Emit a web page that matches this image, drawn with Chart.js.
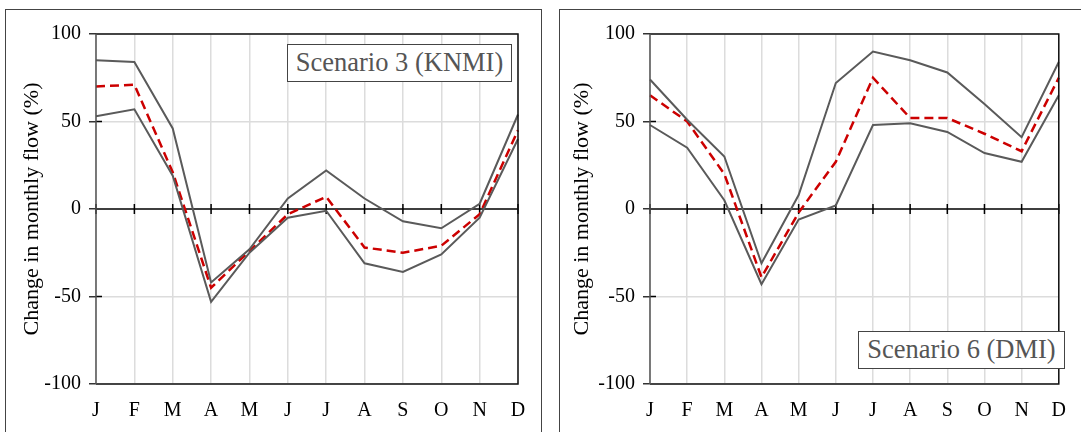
<!DOCTYPE html>
<html>
<head>
<meta charset="utf-8">
<script src="https://cdn.jsdelivr.net/npm/chart.js@4.4.1/dist/chart.umd.min.js"></script>
<style>
  html, body { margin: 0; padding: 0; background: #fff; }
  body { width: 1081px; height: 432px; position: relative; overflow: hidden; }
  .frame { position: absolute; top: 9px; height: 600px; border: 1.5px solid #444; box-sizing: border-box; }
  canvas { position: absolute; top: 0; }
  .label {
    position: absolute; box-sizing: border-box; height: 38px;
    border: 1.5px solid #444; background: #fff; color: #555;
    font-family: "Liberation Serif", "DejaVu Serif", serif; font-size: 26.5px;
    line-height: 35px; text-align: center; white-space: nowrap;
  }
</style>
</head>
<body>
<div class="frame" style="left:5px; width:537px;"></div>
<div class="frame" style="left:559px; width:540px;"></div>
<canvas id="knmiChart" width="541" height="432" style="left:0px"></canvas>
<canvas id="dmiChart" width="540" height="432" style="left:541px"></canvas>
<div class="label" style="left:287px; top:44px; width:225px;">Scenario 3 (KNMI)</div>
<div class="label" style="left:858px; top:331px; width:207px;">Scenario 6 (DMI)</div>
<script>
var months = ["J", "F", "M", "A", "M", "J", "J", "A", "S", "O", "N", "D"];
var yTicks = [-100, -50, 0, 50, 100];

// scenario 3 (KNMI)
var knmiUpper = [85, 84, 46, -42, -23, 6, 22, 6, -7, -11, 3, 54];
var knmiLower = [53, 57, 19, -53, -25, -5, -1, -31, -36, -26, -5, 40];
var knmiMean = [70, 71, 21, -45, -24, -3, 7, -22, -25, -21, -3, 45];

// scenario 6 (DMI)
var dmiUpper = [74, 51, 30, -31, 8, 72, 90, 85, 78, 60, 41, 84];
var dmiLower = [48, 35, 5, -43, -6, 2, 48, 49, 44, 32, 27, 65];
var dmiMean = [65, 50, 20, -39, -2, 27, 75, 52, 52, 43, 33, 75];

Chart.defaults.font.family = "'Liberation Serif', 'DejaVu Serif', serif";
Chart.defaults.color = "#000";

var axisDecor = {
    id: "axisDecor",
    beforeDatasetsDraw: function (chart) {
        var ctx = chart.ctx;
        var a = chart.chartArea;
        var x = chart.scales.x;
        var y = chart.scales.y;
        var y0 = y.getPixelForValue(0);
        ctx.save();
        ctx.strokeStyle = "#000";
        ctx.lineWidth = 1.5;
        ctx.beginPath();
        ctx.moveTo(a.left, y0);
        ctx.lineTo(a.right, y0);
        for (var i = 0; i < months.length; i++) {
            var px = x.getPixelForValue(i);
            ctx.moveTo(px, y0 - 5);
            ctx.lineTo(px, y0 + 5);
        }
        [50, -50].forEach(function (v) {
            var py = y.getPixelForValue(v);
            ctx.moveTo(a.left, py);
            ctx.lineTo(a.left + 6, py);
        });
        ctx.stroke();
        ctx.restore();
    },
    afterDraw: function (chart) {
        var ctx = chart.ctx;
        var a = chart.chartArea;
        ctx.save();
        ctx.lineWidth = 1.5;
        ctx.strokeStyle = "#111";
        ctx.beginPath();
        ctx.moveTo(a.left, a.top);
        ctx.lineTo(a.right, a.top);
        ctx.lineTo(a.right, a.bottom);
        ctx.lineTo(a.left, a.bottom);
        ctx.stroke();
        ctx.strokeStyle = "#555";
        ctx.beginPath();
        ctx.moveTo(a.left, a.top);
        ctx.lineTo(a.left, a.bottom);
        ctx.stroke();
        ctx.restore();
    },
};

function makeChart(id, upper, lower, mean, axisWidth, rightPad, titlePad) {
    return new Chart(document.getElementById(id).getContext("2d"), {
        type: "line",
        data: {
            labels: months,
            datasets: [
                {
                    label: "Upper",
                    data: upper,
                    borderColor: "#5a5a5a",
                    borderWidth: 2,
                    pointRadius: 0,
                    tension: 0,
                },
                {
                    label: "Lower",
                    data: lower,
                    borderColor: "#5a5a5a",
                    borderWidth: 2,
                    pointRadius: 0,
                    tension: 0,
                },
                {
                    label: "Mean",
                    data: mean,
                    borderColor: "#cc0000",
                    borderWidth: 2.5,
                    borderDash: [9, 5],
                    pointRadius: 0,
                    tension: 0,
                },
            ],
        },
        options: {
            responsive: false,
            animation: false,
            events: [],
            layout: {
                padding: { top: 34, right: rightPad, bottom: 0, left: 0 },
            },
            plugins: {
                legend: { display: false },
                tooltip: { enabled: false },
            },
            scales: {
                x: {
                    grid: {
                        color: "#dcdcdc",
                        lineWidth: 1.5,
                        drawTicks: false,
                    },
                    border: { display: false },
                    ticks: {
                        font: { size: 20 },
                        padding: 15,
                        maxRotation: 0,
                        autoSkip: false,
                    },
                    afterFit: function (scale) {
                        scale.height = 48;
                    },
                },
                y: {
                    min: -100,
                    max: 100,
                    afterBuildTicks: function (scale) {
                        scale.ticks = yTicks.map(function (v) {
                            return { value: v };
                        });
                    },
                    grid: {
                        color: function (c) {
                            return c.tick && c.tick.value === 0 ? "rgba(0,0,0,0)" : "#dcdcdc";
                        },
                        lineWidth: 1.5,
                        tickColor: "#333",
                        tickLength: 7,
                    },
                    border: { display: false },
                    ticks: {
                        font: { size: 20 },
                        padding: 8,
                        callback: function (v) {
                            return String(v);
                        },
                    },
                    title: {
                        display: true,
                        text: "Change in monthly flow (%)",
                        font: { size: 22 },
                        padding: { top: titlePad, bottom: 0 },
                    },
                    afterFit: function (scale) {
                        scale.width = axisWidth;
                    },
                },
            },
        },
        plugins: [axisDecor],
    });
}

var knmiChart = makeChart("knmiChart", knmiUpper, knmiLower, knmiMean, 96, 23, 19);
var dmiChart = makeChart("dmiChart", dmiUpper, dmiLower, dmiMean, 109, 9, 28);
</script>
</body>
</html>
